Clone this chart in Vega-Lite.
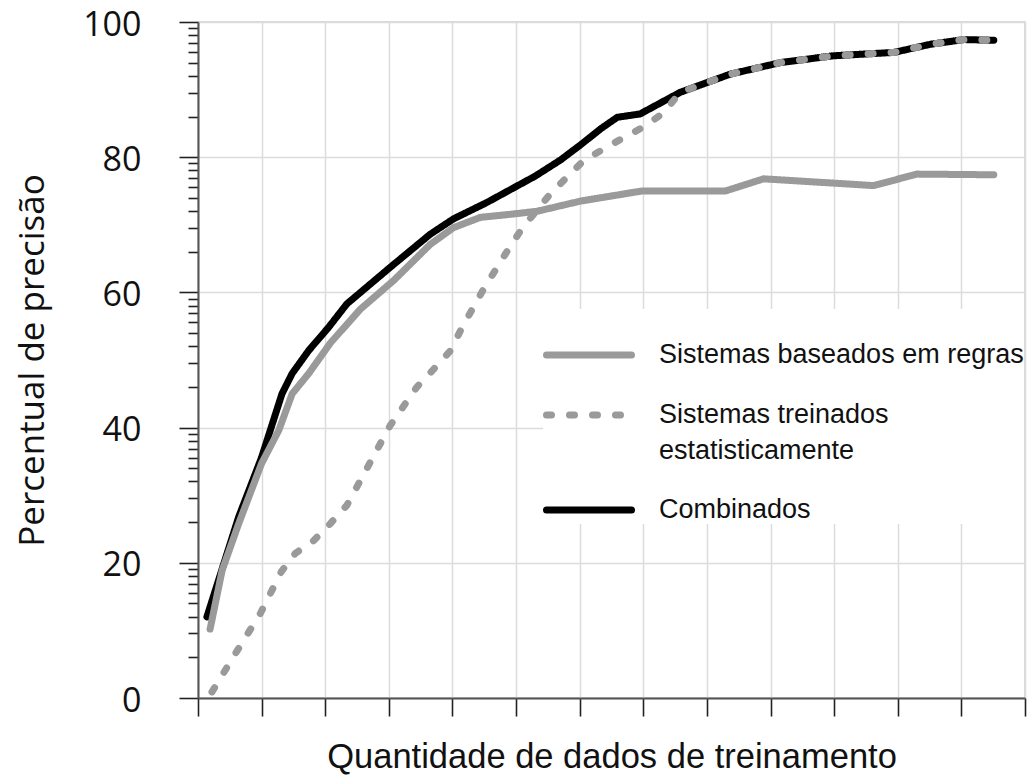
{
  "$schema": "https://vega.github.io/schema/vega-lite/v6.json",
  "autosize": {"type": "none"},
  "padding": {"left": 198, "top": 22, "right": 3, "bottom": 82},
  "width": 827,
  "height": 676,
  "background": "white",
  "config": {
    "view": {"stroke": "#cfcfcf", "strokeWidth": 1.5},
    "axis": {"gridColor": "#dcdcdc", "gridWidth": 1.5, "domainColor": "#555555", "domainWidth": 2, "tickColor": "#222222", "tickWidth": 1.6}
  },
  "data": {
    "values": [
      {"serie": "Combinados", "x": 0.14, "y": 12.0},
      {"serie": "Combinados", "x": 0.64, "y": 26.8},
      {"serie": "Combinados", "x": 1.0, "y": 35.6},
      {"serie": "Combinados", "x": 1.32, "y": 45.0},
      {"serie": "Combinados", "x": 1.48, "y": 48.0},
      {"serie": "Combinados", "x": 1.74, "y": 51.4},
      {"serie": "Combinados", "x": 2.05, "y": 54.8},
      {"serie": "Combinados", "x": 2.34, "y": 58.3},
      {"serie": "Combinados", "x": 3.02, "y": 63.7},
      {"serie": "Combinados", "x": 3.65, "y": 68.6},
      {"serie": "Combinados", "x": 4.02, "y": 70.9},
      {"serie": "Combinados", "x": 4.54, "y": 73.3},
      {"serie": "Combinados", "x": 5.3, "y": 77.2},
      {"serie": "Combinados", "x": 5.7, "y": 79.6},
      {"serie": "Combinados", "x": 6.01, "y": 81.8},
      {"serie": "Combinados", "x": 6.33, "y": 84.2},
      {"serie": "Combinados", "x": 6.59, "y": 85.9},
      {"serie": "Combinados", "x": 6.95, "y": 86.4},
      {"serie": "Combinados", "x": 7.58, "y": 89.6},
      {"serie": "Combinados", "x": 8.37, "y": 92.3},
      {"serie": "Combinados", "x": 9.16, "y": 94.0},
      {"serie": "Combinados", "x": 9.99, "y": 95.0},
      {"serie": "Combinados", "x": 10.94, "y": 95.5},
      {"serie": "Combinados", "x": 11.51, "y": 96.7},
      {"serie": "Combinados", "x": 12.04, "y": 97.4},
      {"serie": "Combinados", "x": 12.51, "y": 97.3},
      {"serie": "Sistemas baseados em regras", "x": 0.19, "y": 10.2},
      {"serie": "Sistemas baseados em regras", "x": 0.38, "y": 18.9},
      {"serie": "Sistemas baseados em regras", "x": 0.64, "y": 25.8},
      {"serie": "Sistemas baseados em regras", "x": 1.0, "y": 34.7},
      {"serie": "Sistemas baseados em regras", "x": 1.27, "y": 39.6},
      {"serie": "Sistemas baseados em regras", "x": 1.48, "y": 45.0},
      {"serie": "Sistemas baseados em regras", "x": 1.74, "y": 48.0},
      {"serie": "Sistemas baseados em regras", "x": 2.08, "y": 52.5},
      {"serie": "Sistemas baseados em regras", "x": 2.55, "y": 57.5},
      {"serie": "Sistemas baseados em regras", "x": 3.08, "y": 61.8},
      {"serie": "Sistemas baseados em regras", "x": 3.65, "y": 67.1},
      {"serie": "Sistemas baseados em regras", "x": 4.02, "y": 69.6},
      {"serie": "Sistemas baseados em regras", "x": 4.44, "y": 71.1},
      {"serie": "Sistemas baseados em regras", "x": 4.96, "y": 71.6},
      {"serie": "Sistemas baseados em regras", "x": 5.33, "y": 72.0},
      {"serie": "Sistemas baseados em regras", "x": 6.01, "y": 73.5},
      {"serie": "Sistemas baseados em regras", "x": 6.98, "y": 75.0},
      {"serie": "Sistemas baseados em regras", "x": 8.29, "y": 75.0},
      {"serie": "Sistemas baseados em regras", "x": 8.89, "y": 76.8},
      {"serie": "Sistemas baseados em regras", "x": 10.62, "y": 75.8},
      {"serie": "Sistemas baseados em regras", "x": 11.3, "y": 77.5},
      {"serie": "Sistemas baseados em regras", "x": 12.51, "y": 77.4},
      {"serie": "Sistemas treinados estatisticamente", "x": 0.22, "y": 0.9},
      {"serie": "Sistemas treinados estatisticamente", "x": 0.59, "y": 6.6},
      {"serie": "Sistemas treinados estatisticamente", "x": 0.98, "y": 12.5},
      {"serie": "Sistemas treinados estatisticamente", "x": 1.31, "y": 18.7},
      {"serie": "Sistemas treinados estatisticamente", "x": 1.53, "y": 21.4},
      {"serie": "Sistemas treinados estatisticamente", "x": 1.82, "y": 23.3},
      {"serie": "Sistemas treinados estatisticamente", "x": 2.08, "y": 25.8},
      {"serie": "Sistemas treinados estatisticamente", "x": 2.34, "y": 28.5},
      {"serie": "Sistemas treinados estatisticamente", "x": 3.02, "y": 40.3},
      {"serie": "Sistemas treinados estatisticamente", "x": 3.44, "y": 46.0},
      {"serie": "Sistemas treinados estatisticamente", "x": 3.71, "y": 48.7},
      {"serie": "Sistemas treinados estatisticamente", "x": 3.97, "y": 51.4},
      {"serie": "Sistemas treinados estatisticamente", "x": 4.15, "y": 54.8},
      {"serie": "Sistemas treinados estatisticamente", "x": 4.49, "y": 60.5},
      {"serie": "Sistemas treinados estatisticamente", "x": 4.88, "y": 66.4},
      {"serie": "Sistemas treinados estatisticamente", "x": 5.09, "y": 69.4},
      {"serie": "Sistemas treinados estatisticamente", "x": 5.54, "y": 74.6},
      {"serie": "Sistemas treinados estatisticamente", "x": 6.06, "y": 79.5},
      {"serie": "Sistemas treinados estatisticamente", "x": 6.69, "y": 82.9},
      {"serie": "Sistemas treinados estatisticamente", "x": 7.03, "y": 84.6},
      {"serie": "Sistemas treinados estatisticamente", "x": 7.32, "y": 86.6},
      {"serie": "Sistemas treinados estatisticamente", "x": 7.58, "y": 89.6},
      {"serie": "Sistemas treinados estatisticamente", "x": 8.37, "y": 92.3},
      {"serie": "Sistemas treinados estatisticamente", "x": 9.16, "y": 94.0},
      {"serie": "Sistemas treinados estatisticamente", "x": 9.99, "y": 95.0},
      {"serie": "Sistemas treinados estatisticamente", "x": 10.94, "y": 95.5},
      {"serie": "Sistemas treinados estatisticamente", "x": 11.51, "y": 96.7},
      {"serie": "Sistemas treinados estatisticamente", "x": 12.04, "y": 97.4},
      {"serie": "Sistemas treinados estatisticamente", "x": 12.51, "y": 97.3}
    ]
  },
  "mark": {"type": "line", "strokeWidth": 7, "interpolate": "linear", "strokeCap": "round", "strokeJoin": "round"},
  "encoding": {
    "x": {
      "field": "x", "type": "quantitative",
      "scale": {"domain": [0, 13], "nice": false, "zero": false},
      "axis": {
        "values": [0, 1, 2, 3, 4, 5, 6, 7, 8, 9, 10, 11, 12, 13],
        "labels": false, "tickSize": 18, "grid": true,
        "title": "Quantidade de dados de treinamento",
        "titleFont": "Liberation Sans", "titleFontSize": 34.5, "titleFontWeight": "normal", "titleColor": "#111111",
        "titleBaseline": "alphabetic", "titleY": 69
      }
    },
    "y": {
      "field": "y", "type": "quantitative",
      "scale": {"domain": [0, 100], "nice": false},
      "axis": {
        "values": [0, 6.0206, 9.5424, 12.0412, 13.9794, 15.563, 16.902, 18.0618, 19.0849,
                   20, 26.0206, 29.5424, 32.0412, 33.9794, 35.563, 36.902, 38.0618, 39.0849,
                   40, 46.0206, 49.5424, 52.0412, 53.9794, 55.563, 56.902, 58.0618, 59.0849,
                   60, 66.0206, 69.5424, 72.0412, 73.9794, 75.563, 76.902, 78.0618, 79.0849,
                   80, 86.0206, 89.5424, 92.0412, 93.9794, 95.563, 96.902, 98.0618, 99.0849, 100],
        "labelExpr": "datum.value % 20 === 0 ? datum.label : ''",
        "labelOverlap": false,
        "labelFont": "Open Sans", "labelFontSize": 34, "labelColor": "#111111",
        "labelPadding": 38, "labelOffset": 3,
        "tickSize": {"condition": {"test": "datum.value % 20 === 0", "value": 19}, "value": 10},
        "gridOpacity": {"condition": {"test": "datum.value % 20 === 0", "value": 1}, "value": 0},
        "grid": true,
        "title": "Percentual de precisão",
        "titleFont": "Open Sans", "titleFontSize": 35, "titleFontWeight": "normal", "titleColor": "#111111",
        "titleBaseline": "alphabetic", "titleX": -155, "titleY": 338, "titleAngle": -90
      }
    },
    "color": {
      "field": "serie", "type": "nominal",
      "scale": {
        "domain": ["Sistemas baseados em regras", "Sistemas treinados estatisticamente", "Combinados"],
        "range": ["#9a9a9a", "#9a9a9a", "#000000"]
      },
      "legend": {
        "orient": "none", "legendX": 345, "legendY": 287, "title": null,
        "symbolType": "stroke", "symbolSize": 7225, "symbolStrokeWidth": 7,
        "labelFont": "Liberation Sans", "labelFontSize": 27, "labelColor": "#111111", "labelOffset": 24, "labelLimit": 600,
        "rowPadding": -13, "padding": 0, "fillColor": "white",
        "labelExpr": "datum.label == 'Sistemas treinados estatisticamente' ? ['Sistemas treinados', 'estatisticamente'] : datum.label",
        "encode": {
          "symbols": {"update": {"strokeCap": {"value": "round"}}},
          "labels": {"update": {"lineHeight": {"value": 36}}}
        }
      }
    },
    "strokeDash": {
      "field": "serie", "type": "nominal",
      "scale": {
        "domain": ["Sistemas baseados em regras", "Sistemas treinados estatisticamente", "Combinados"],
        "range": [[1, 0], [5, 18], [1, 0]]
      },
      "legend": null
    }
  }
}
